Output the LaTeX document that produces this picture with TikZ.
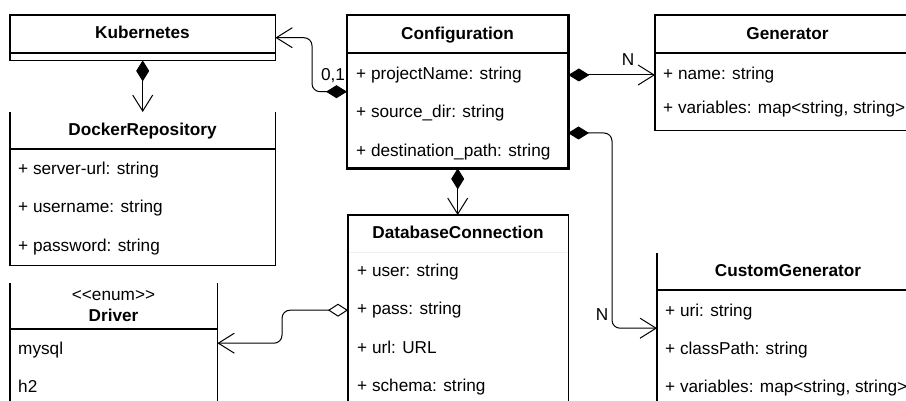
\documentclass[tikz,border=0pt]{standalone}
\usepackage{fontspec}
\setmainfont{Liberation Sans}
\usetikzlibrary{arrows.meta,calc}
\begin{document}
\begin{tikzpicture}[x=1pt,y=-1pt,
  every node/.style={font=\fontsize{17.2}{20}\selectfont, inner sep=0pt},
  frame/.style={draw=none, anchor=north west, inner sep=0pt},
  boxline/.style={line width=1.3pt},
  txt/.style={text height=12.4pt, text depth=3.6pt},
  title/.style={txt, font=\fontsize{17.2}{20}\selectfont\bfseries},
  attr/.style={txt, anchor=west},
  link/.style={line width=1pt, rounded corners=8pt},
  compo/.style={link, {Diamond[length=21pt,width=13pt]}-{Straight Barb[length=16pt,width=20pt]}},
  aggr/.style={link, {Diamond[open,fill=white,length=20pt,width=13pt]}-{Straight Barb[length=16pt,width=20pt]}},
]
\clip (0,0) rectangle (906,401);
\fill[white] (0,0) rectangle (906,401);

% Kubernetes
\node[frame, minimum width=265pt, minimum height=45pt] (kub) at (10,15) {};
\draw[boxline] (kub.north west) rectangle (kub.south east);
\draw[boxline] (10,53) -- (275,53);
\node[title] (kubT) at (142.5,34) {Kubernetes};

% DockerRepository
\node[frame, minimum width=265pt, minimum height=153pt] (dock) at (10,112) {};
\draw[boxline] (dock.north west) -- (dock.south west) -- (dock.south east) -- (dock.north east);
\draw[boxline] (10,149) -- (275,149);
\node[title] (dockT) at (142.5,131) {DockerRepository};
\node[attr] (dockR1) at (18,170) {+ server-url: string};
\node[attr] (dockR2) at (18,208) {+ username: string};
\node[attr] (dockR3) at (18,247) {+ password: string};

% Configuration
\node[frame, minimum width=221pt, minimum height=153pt] (cfg) at (347,15) {};
\draw[line width=2.4pt] (cfg.north west) rectangle (cfg.south east);
\draw[boxline] (347,53) -- (568,53);
\node[title] (cfgT) at (457.5,35) {Configuration};
\node[attr] (cfgR1) at (356,75) {+ projectName: string};
\node[attr] (cfgR2) at (356,113) {+ source\_dir: string};
\node[attr] (cfgR3) at (356,152) {+ destination\_path: string};

% Generator
\node[frame, minimum width=265pt, minimum height=115pt] (gen) at (655,15) {};
\draw[boxline] (gen.north west) rectangle (gen.south east);
\draw[boxline] (655,53) -- (920,53);
\node[title] (genT) at (787.5,35) {Generator};
\node[attr] (genR1) at (663,75) {+ name: string};
\node[attr] (genR2) at (663,109) {+ variables: map<string, string>};

% DatabaseConnection
\node[frame, minimum width=220pt, minimum height=190pt] (dbc) at (348,215) {};
\draw[boxline] (dbc.south west) -- (dbc.north west) -- (dbc.north east) -- (dbc.south east);
\draw[line width=1pt, gray!12] (349,253) -- (567,253);
\node[title] (dbcT) at (458,234) {DatabaseConnection};
\node[attr] (dbcR1) at (357,272) {+ user: string};
\node[attr] (dbcR2) at (357,310) {+ pass: string};
\node[attr] (dbcR3) at (357,349) {+ url: URL};
\node[attr] (dbcR4) at (357,387) {+ schema: string};

% Driver (enumeration)
\node[frame, minimum width=207pt, minimum height=120pt] (drv) at (10,283) {};
\draw[boxline] (drv.north west) -- (drv.south west);
\draw[boxline] (drv.north east) -- (drv.south east);
\draw[boxline] (10,329) -- (217,329);
\node[txt] (drvS) at (113.5,296) {<\kern0pt<enum>\kern0pt>};
\node[title] (drvT) at (113.5,317) {Driver};
\node[attr] (drvR1) at (18,350) {mysql};
\node[attr] (drvR2) at (18,388) {h2};

% CustomGenerator
\node[frame, minimum width=263pt, minimum height=150pt] (cg) at (657,253) {};
\draw[boxline] (cg.north west) -- (cg.south west);
\draw[boxline] (657,290) -- (920,290);
\node[title] (cgT) at (788,272) {CustomGenerator};
\node[attr] (cgR1) at (665,312) {+ uri: string};
\node[attr] (cgR2) at (665,350) {+ classPath: string};
\node[attr] (cgR3) at (665,388) {+ variables: map<string, string>};

% Connectors
\coordinate (kbend) at (312,0);
\draw[compo] (cfg.west) -- (kbend |- cfg.west) -- (kbend |- kub.east) -- (kub.east);
\node[txt] (l01) at (333,76) {0,1};

\draw[compo] (kub.south) -- (dock.north);

\draw[compo] (cfg.east |- cfgR1) -- (gen.west |- cfgR1);
\node[txt] (nGen) at (628,61) {N};

\coordinate (cport) at (568,133);
\coordinate (cgbend) at (612,0);
\draw[compo] (cport) -- (cgbend |- cport) -- (cgbend |- cg.west) -- (cg.west);
\node[txt] (nCg) at (602,316) {N};

\draw[compo] (cfg.south) -- (cfg.south |- dbc.north);

\coordinate (dbend) at (282,0);
\draw[aggr] (dbc.west) -- (dbend |- dbc.west) -- (dbend |- drv.east) -- (drv.east);
\end{tikzpicture}
\end{document}
